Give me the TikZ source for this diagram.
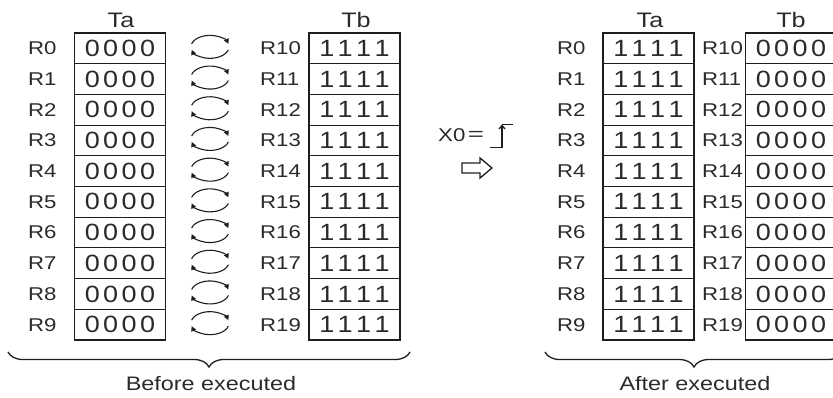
\documentclass[tikz,border=0pt]{standalone}
\usepackage{fontspec}
\setmainfont{Liberation Sans}
\usetikzlibrary{decorations.pathreplacing,arrows.meta}

% slightly wide lettering used throughout
\newcommand\widetxt[2][1.2]{\scalebox{#1}[1]{#2}}
% four equal bits with a little extra spacing
\newcommand\fourbits[1]{\widetxt[1.15]{#1\kern3pt#1\kern3pt#1\kern3pt#1}}

\definecolor{ink}{HTML}{2A2A2A}
\definecolor{rule}{HTML}{1E1E1E}

\tikzset{
  cell/.style={draw=rule, line width=1.1pt, minimum width=91pt, minimum height=30.7pt,
               inner sep=0pt, text=ink, font=\fontsize{23.5}{25}\selectfont},
  reglabel/.style={anchor=west, inner sep=0pt, text=ink, font=\fontsize{18.5}{20}\selectfont},
  header/.style={inner sep=0pt, text=ink, font=\fontsize{21}{23}\selectfont},
  caption/.style={inner sep=0pt, text=ink, font=\fontsize{19.5}{21}\selectfont},
  swaparc/.style={draw=rule, line width=1.1pt, -{Triangle[length=5pt,width=5pt]}},
  groupbrace/.style={draw=rule, line width=1.3pt, decorate,
                     decoration={brace, amplitude=15pt}},
}

\begin{document}
\begin{tikzpicture}[x=1pt, y=-1pt]
\useasboundingbox (0,0) rectangle (833,397);
\clip (0,0) rectangle (833,397);

% ---- column headers ----
\node[header] (hTa1) at (121,20) {\widetxt{Ta}};
\node[header] (hTb1) at (356,20) {\widetxt{Tb}};
\node[header] (hTa2) at (650,20) {\widetxt{Ta}};
\node[header] (hTb2) at (791,20) {\widetxt{Tb}};

% ---- register rows ----
\foreach \i in {0,...,9} {
  \pgfmathsetmacro\yy{33+30.7*(\i+0.5)}
  % before
  \node[reglabel] (la\i) at (28,\yy) {\widetxt{R\i}};
  \node[cell] (a\i) at (120,\yy) {\fourbits{0}};
  \node[reglabel] (lb\i) at (260,\yy) {\widetxt{R1\i}};
  \node[cell] (b\i) at (354.5,\yy) {\fourbits{1}};
  % swap marks between the two tables (clockwise pair of arcs)
  \draw[swaparc] ([shift={(165:19pt and 11.5pt)}]210,\yy-1.5)
      arc[start angle=165, end angle=15, x radius=19pt, y radius=11.5pt];
  \draw[swaparc] ([shift={(345:19pt and 11.5pt)}]210,\yy-1.5)
      arc[start angle=345, end angle=195, x radius=19pt, y radius=11.5pt];
  % after
  \node[reglabel] (lc\i) at (557,\yy) {\widetxt{R\i}};
  \node[cell] (c\i) at (648.5,\yy) {\fourbits{1}};
  \node[reglabel] (ld\i) at (702,\yy) {\widetxt{R1\i}};
  \node[cell] (d\i) at (791,\yy) {\fourbits{0}};
}

% ---- trigger condition ----
\node[reglabel] (x0) at (438,135.5) {\widetxt{X0}};
\node[inner sep=0pt, text=ink, font=\fontsize{18.5}{20}\selectfont] (eq) at (476,136) {\widetxt[1.5]{=}};
\coordinate (edgeL) at (490,147.5);
\coordinate (edgeB) at (502,147.5);
\coordinate (edgeT) at (502,124.5);
\coordinate (edgeR) at (513,124.5);
\draw[rule, line width=1.3pt] (edgeL) -- (edgeB);
\draw[rule, line width=1.3pt, -{Straight Barb[length=3.5pt,width=6pt]}] (edgeB) -- (edgeT);
\draw[rule, line width=1pt] (edgeT) -- (edgeR);
% hollow "then" arrow
\draw[rule, line width=1.3pt, line join=miter]
  (462,163) -- (480,163) -- (480,158) -- (492,168) -- (480,178) -- (480,173) -- (462,173) -- cycle;

% ---- braces and captions ----
\draw[groupbrace] (410,352) -- (8,352);
\node[caption] (cap1) at (211,384) {\widetxt{Before executed}};
\draw[groupbrace] (843,352) -- (545,352);
\node[caption] (cap2) at (695,384) {\widetxt{After executed}};
\end{tikzpicture}
\end{document}
